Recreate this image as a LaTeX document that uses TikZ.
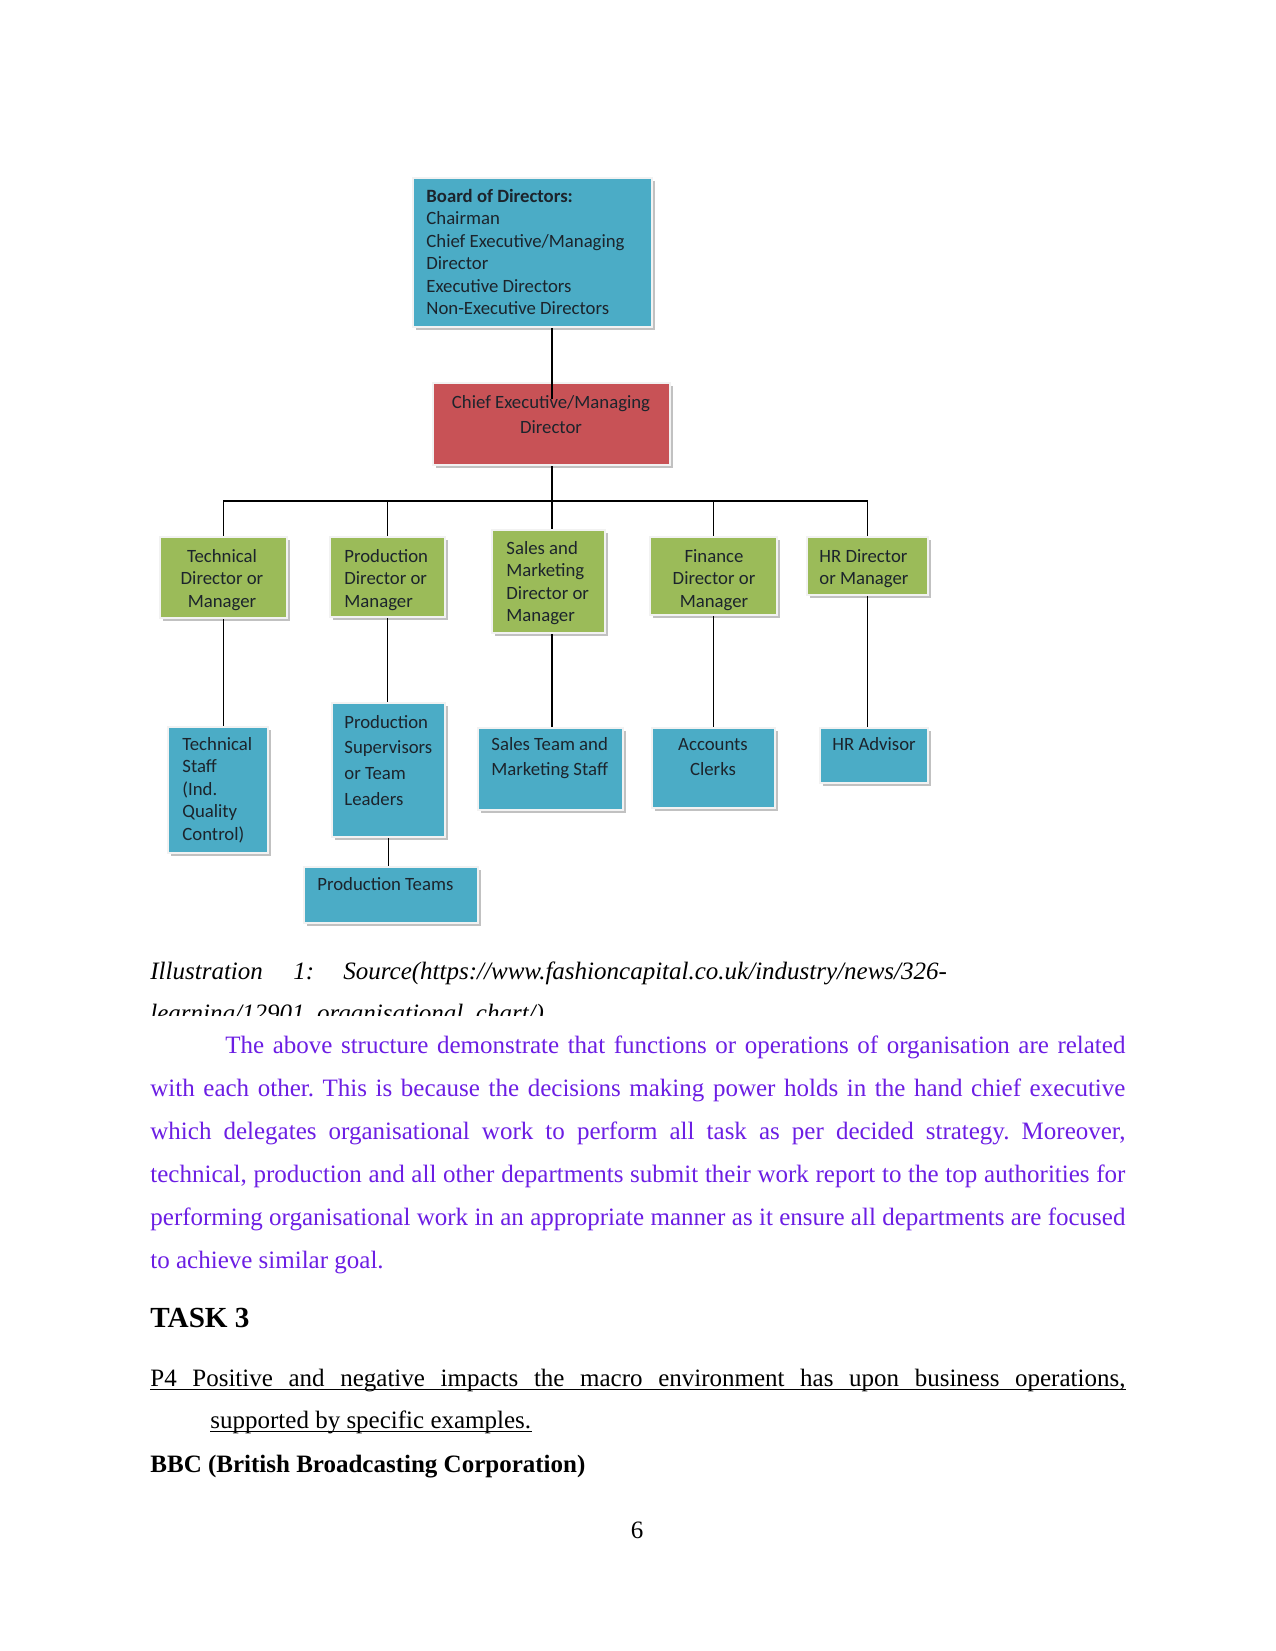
\documentclass[tikz,border=0pt]{standalone}
\usepackage{fontspec}
\setmainfont{Liberation Serif}
\newfontfamily\boxfont{Carlito}
\usetikzlibrary{shadows}
\frenchspacing
\definecolor{orgblue}{RGB}{75,172,198}
\definecolor{orggreen}{RGB}{155,187,89}
\definecolor{orgred}{RGB}{200,82,86}
\definecolor{bodyviolet}{RGB}{108,30,228}
\definecolor{boxink}{RGB}{28,36,44}
\newcommand\orgnode[6]{%
  \node[orgbox, fill=#6, minimum width={(#4-#2)*0.48pt}, minimum height={(#5-#3)*0.48pt}]
    (#1) at ({(#2+#4)/2},{(#3+#5)/2}) {};}
\begin{document}
\begin{tikzpicture}[x=0.48pt,y=-0.48pt,
  orgbox/.style={rectangle, draw=gray!10, line width=1.4pt, inner sep=0pt,
    drop shadow={shadow xshift=1.6pt, shadow yshift=-1.6pt, fill=gray!60, opacity=0.8}},
  boxtxt/.style={inner sep=0pt, text=boxink, font=\boxfont\fontsize{9}{10.8}\selectfont},
  wide/.style={boxtxt, font=\boxfont\fontsize{9}{12.4}\selectfont},
  conn/.style={draw=black, line width=0.75pt},
  uline/.style={draw=black, line width=0.6pt},
  bodyline/.style={inner sep=0pt, anchor=base west, text=bodyviolet, font=\fontsize{12}{14}\selectfont},
  plainline/.style={inner sep=0pt, anchor=base west, text=black, font=\fontsize{12}{14}\selectfont},
  capline/.style={inner sep=0pt, anchor=base west, text=black, font=\fontsize{12}{14}\selectfont\itshape}]
\useasboundingbox (0,0) rectangle (1275,1651);
\fill[white] (0,0) rectangle (1275,1651);

% ---------- boxes ----------
\orgnode{board}{413}{178}{652}{327}{orgblue}
\orgnode{ceo}{433}{383}{670}{465}{orgred}
\orgnode{tech}{160}{537}{287}{618}{orggreen}
\orgnode{prod}{330}{537}{445}{617}{orggreen}
\orgnode{sales}{492}{530}{605}{633}{orggreen}
\orgnode{fin}{650}{537}{777}{615}{orggreen}
\orgnode{hr}{807}{537}{928}{595}{orggreen}
\orgnode{techstaff}{168}{727}{268}{853}{orgblue}
\orgnode{prodsup}{332}{703}{445}{837}{orgblue}
\orgnode{prodteams}{304}{867}{478}{923}{orgblue}
\orgnode{salesteam}{478}{728}{623}{810}{orgblue}
\orgnode{accounts}{652}{728}{775}{808}{orgblue}
\orgnode{hradv}{820}{728}{928}{783}{orgblue}

% ---------- connectors ----------
\coordinate (bar) at (552,501);
\draw[conn] (bar |- board.south) -- (bar |- ceo.north) -- ++(0,17);
\draw[conn] (bar |- ceo.south) -- (bar);
\draw[conn] (tech.north) -- (tech.north |- bar) -- (hr.north |- bar) -- (hr.north);
\draw[conn] (prod.north) -- (prod.north |- bar);
\draw[conn] (bar |- sales.north) -- (bar);
\draw[conn] (fin.north) -- (fin.north |- bar);
\draw[conn] (tech.south) -- (tech.south |- techstaff.north);
\draw[conn] (prod.south) -- (prod.south |- prodsup.north);
\draw[conn] (prodsup.south) -- (prodsup.south |- prodteams.north);
\draw[conn] (bar |- sales.south) -- (bar |- salesteam.north);
\draw[conn] (fin.south) -- (fin.south |- accounts.north);
\draw[conn] (hr.south) -- (hr.south |- hradv.north);

% ---------- box texts ----------
\node[boxtxt, anchor=north west, align=left] (boardT) at (426,187)
  {\rule{0pt}{7pt}\textbf{Board of Directors:}\\Chairman\\Chief Executive/Managing\\Director\\Executive Directors\\Non-Executive Directors};
\node[boxtxt, anchor=north, align=center, font=\boxfont\fontsize{9}{12.2}\selectfont] (ceoT) at (551,393)
  {\rule{0pt}{7pt}Chief Executive/Managing\\Director};
\node[boxtxt, anchor=north, align=center] (techT) at (222,547)
  {\rule{0pt}{7pt}Technical\\Director or\\Manager};
\node[boxtxt, anchor=north west, align=left] (prodT) at (344,547)
  {\rule{0pt}{7pt}Production\\Director or\\Manager};
\node[boxtxt, anchor=north west, align=left] (salesT) at (506,539)
  {\rule{0pt}{7pt}Sales and\\Marketing\\Director or\\Manager};
\node[boxtxt, anchor=north, align=center] (finT) at (714,547)
  {\rule{0pt}{7pt}Finance\\Director or\\Manager};
\node[boxtxt, anchor=north west, align=left] (hrT) at (819,547)
  {\rule{0pt}{7pt}HR Director\\or Manager};
\node[boxtxt, anchor=north west, align=left] (techstaffT) at (182,735)
  {\rule{0pt}{7pt}Technical\\Staff\\(Ind.\\Quality\\Control)};
\node[wide, anchor=north west, align=left] (prodsupT) at (344,713)
  {\rule{0pt}{7pt}Production\\Supervisors\\or Team\\Leaders};
\node[boxtxt, anchor=north west, align=left] (prodteamsT) at (317,875)
  {\rule{0pt}{7pt}Production Teams};
\node[wide, anchor=north west, align=left] (salesteamT) at (491,735)
  {\rule{0pt}{7pt}Sales Team and\\Marketing Staff};
\node[wide, anchor=north, align=center] (accountsT) at (713,735)
  {\rule{0pt}{7pt}Accounts\\Clerks};
\node[boxtxt, anchor=north west, align=left] (hradvT) at (832,735)
  {\rule{0pt}{7pt}HR Advisor};

% ---------- caption ----------
\node[capline] (cap1) at (150,979) {Illustration};
\node[capline] (cap2) at (293,979) {1:};
\node[capline] (cap3) at (343,979) {Source(https://www.fashioncapital.co.uk/industry/news/326-};
\begin{scope}
  \clip (100,940) rectangle (1200,1015);
  \node[capline] (cap4) at (150,1021) {learning/12901\_organisational\_chart/)};
\end{scope}

% ---------- paragraph ----------
\node[bodyline] (p1) at (225,1053) {\makebox[432pt][s]{The above structure demonstrate that functions or operations of organisation are related}};
\node[bodyline] (p2) at (150,1096) {\makebox[468pt][s]{with each other. This is because the decisions making power holds in the hand chief executive}};
\node[bodyline] (p3) at (150,1139) {\makebox[468pt][s]{which delegates organisational work to perform all task as per decided strategy. Moreover,}};
\node[bodyline] (p4) at (150,1182) {\makebox[468pt][s]{technical, production and all other departments submit their work report to the top authorities for}};
\node[bodyline] (p5) at (150,1225) {\makebox[468pt][s]{performing organisational work in an appropriate manner as it ensure all departments are focused}};
\node[bodyline] (p6) at (150,1268) {to achieve similar goal.};

% ---------- task ----------
\node[plainline, font=\fontsize{14}{16}\selectfont\bfseries] (task) at (150,1327) {TASK 3};
\node[plainline] (q1) at (150,1386) {\makebox[468pt][s]{P4 Positive and negative impacts the macro environment has upon business operations,}};
\draw[uline] ([yshift=-1.6pt]q1.base west) -- ([yshift=-1.6pt]q1.base east);
\node[plainline] (q2) at (210,1428) {supported by specific examples.};
\draw[uline] ([yshift=-1.6pt]q2.base west) -- ([yshift=-1.6pt]q2.base east);
\node[plainline, font=\fontsize{12}{14}\selectfont\bfseries] (bbc) at (150,1472) {BBC (British Broadcasting Corporation)};
\node[plainline, anchor=base] (pg) at (637,1538) {6};
\end{tikzpicture}
\end{document}
